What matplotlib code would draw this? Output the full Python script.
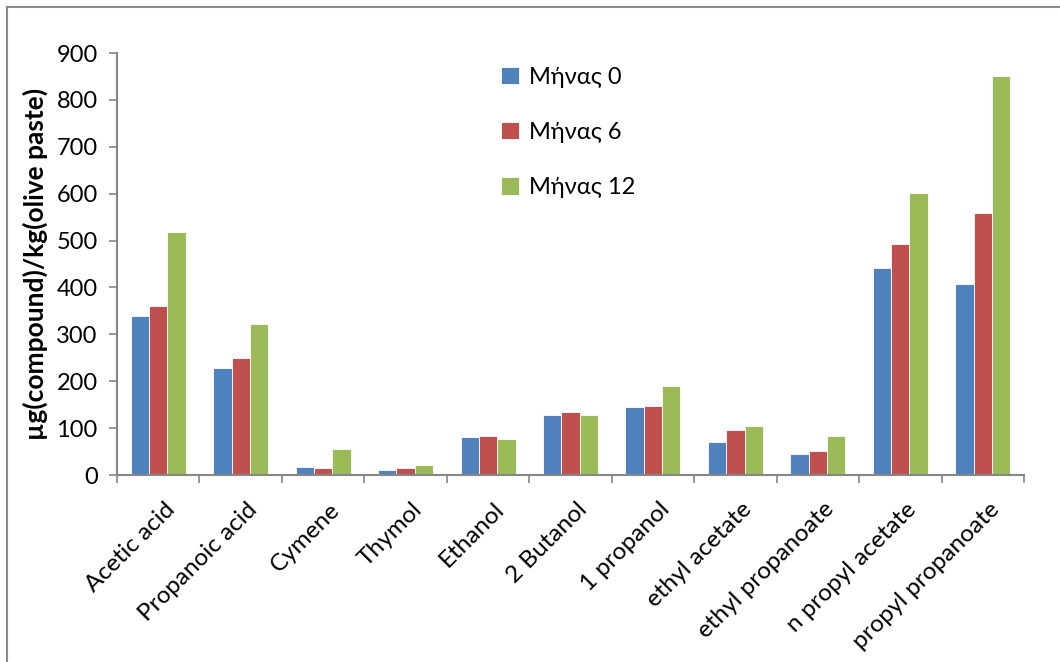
import numpy as np
import matplotlib
matplotlib.use("Agg")
import matplotlib.pyplot as plt
from matplotlib.lines import Line2D

plt.rcParams['font.family'] = ['Lato', 'DejaVu Sans']

compounds = ["Acetic acid", "Propanoic acid", "Cymene", "Thymol", "Ethanol",
             "2 Butanol", "1 propanol", "ethyl acetate", "ethyl propanoate",
             "n propyl acetate", "propyl propanoate"]
month0 = [339, 228, 16, 10, 80, 128, 146, 71, 45, 441, 407]
month6 = [361, 249, 15, 14, 83, 135, 148, 97, 52, 492, 558]
month12 = [519, 322, 55, 21, 77, 127, 190, 105, 83, 602, 852]
series_names = ["Μήνας 0", "Μήνας 6", "Μήνας 12"]
colors = ["#4F81BD", "#C0504D", "#9BBB59"]

W, H = 1060, 662
fig = plt.figure(figsize=(W / 100, H / 100), dpi=100)
ax = fig.add_axes([117 / W, 1 - 475 / H, (1024 - 117) / W, (475 - 53) / H])

x = np.arange(len(compounds))
bw = 1 / 4.5
for i, (vals, name, c) in enumerate(zip([month0, month6, month12], series_names, colors)):
    ax.bar(x + (i - 1) * bw, vals, width=bw, color=c, edgecolor="white",
           linewidth=0.6, label=name, zorder=2)

ax.set_xlim(-0.5, len(compounds) - 0.5)
ax.set_ylim(0, 900)
ax.set_yticks(np.arange(0, 901, 100))
ax.tick_params(axis="y", labelsize=17, length=6, width=1.2, color="#868686", pad=8)
ax.set_xticks(np.arange(-0.5, len(compounds), 1))
ax.set_xticklabels([])
ax.tick_params(axis="x", length=6, width=1.2, color="#868686")
for s in ["top", "right"]:
    ax.spines[s].set_visible(False)
for s in ["left", "bottom"]:
    ax.spines[s].set_color("#868686")
    ax.spines[s].set_linewidth(1.5)

# category names, rotated and ending under each group
for xi, name in zip(x, compounds):
    ax.annotate(name, xy=(xi, 0), xycoords=("data", "axes fraction"),
                xytext=(4, -17), textcoords="offset points",
                rotation=45, ha="right", va="top", rotation_mode="anchor",
                fontsize=17.5)

ax.set_ylabel("µg(compound)/kg(olive paste)", fontsize=19, fontweight="bold", labelpad=6)

ax.legend(loc="upper left", bbox_to_anchor=(0.40, 1.018), frameon=False,
          fontsize=17, handlelength=0.75, handleheight=0.75, handletextpad=0.45,
          labelspacing=1.45)

# chart frame, only top and left edges visible
fig.add_artist(Line2D([7 / W, 7 / W], [0, 1 - 7 / H], color="#8c8c8c", lw=1.5))
fig.add_artist(Line2D([7 / W, 1], [1 - 7 / H, 1 - 7 / H], color="#8c8c8c", lw=1.5))

fig.savefig("out.png", dpi=100)
